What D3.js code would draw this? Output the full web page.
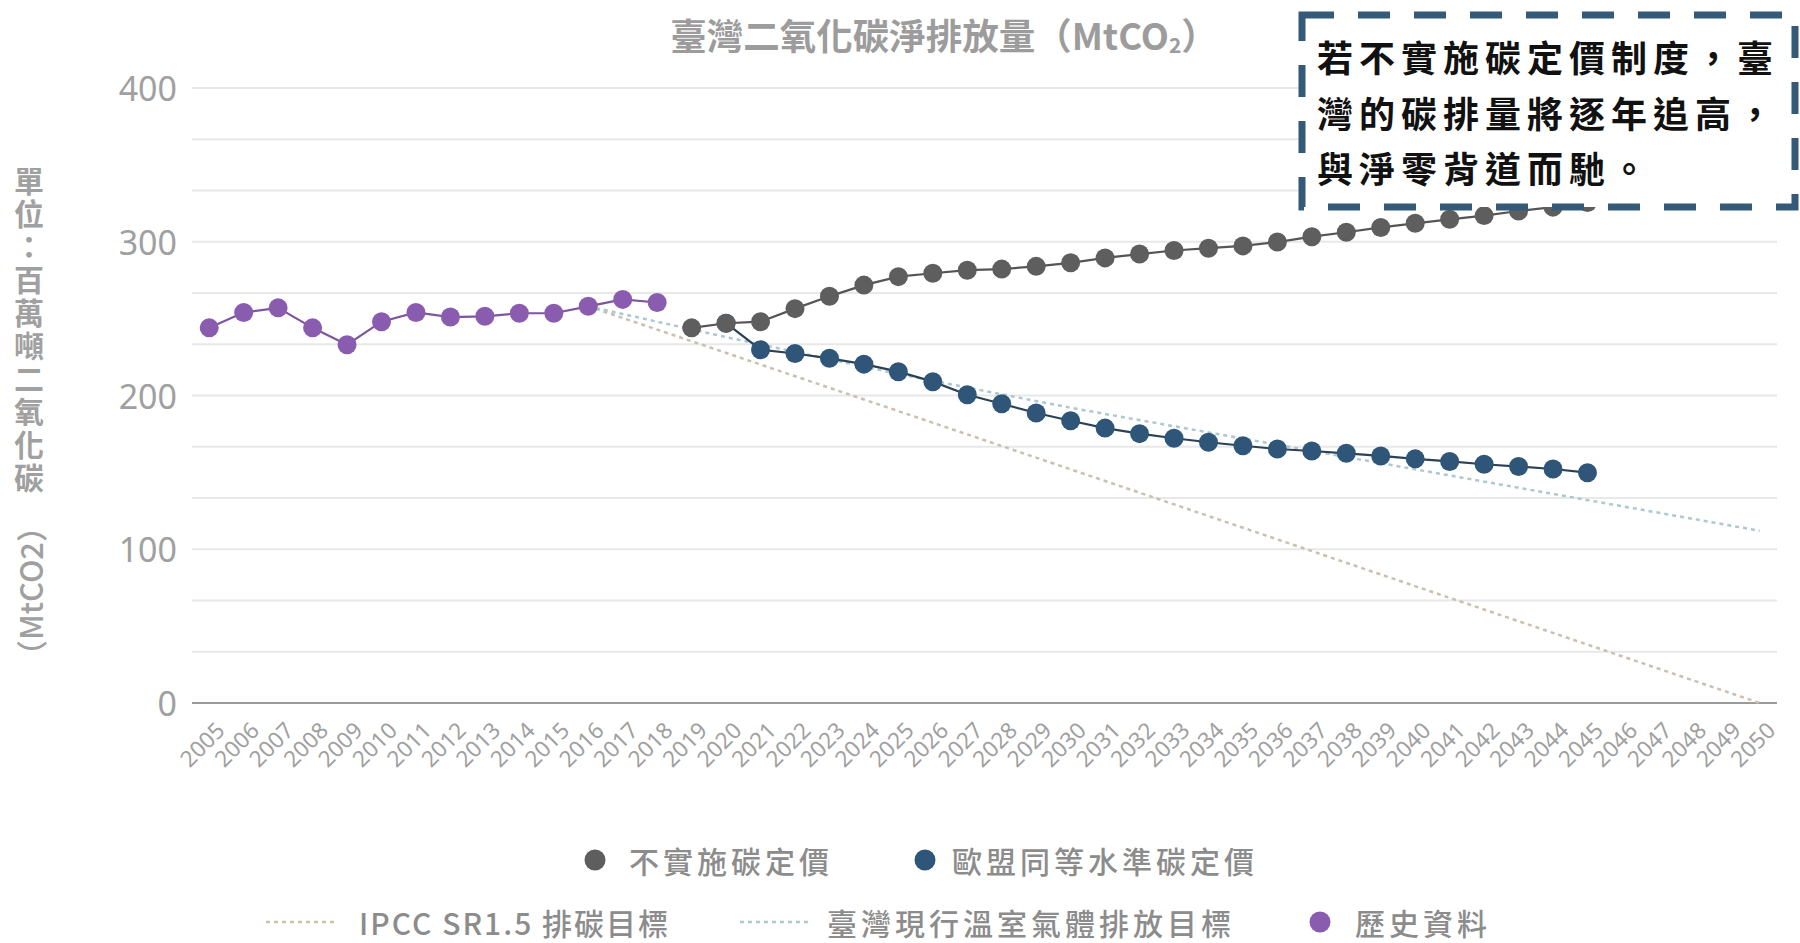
<!DOCTYPE html>
<head>
  <meta charset="utf-8">
  <script src="https://cdn.jsdelivr.net/npm/d3@7/dist/d3.min.js"></script>
  <style>
    body { margin:0; background:#fff; }
    svg { display:block; }
  </style>
</head>
<body>
  <script>
    // categories / tick labels
    var years = ["2005","2006","2007","2008","2009","2010","2011","2012","2013","2014","2015","2016",
                 "2017","2018","2019","2020","2021","2022","2023","2024","2025","2026","2027","2028",
                 "2029","2030","2031","2032","2033","2034","2035","2036","2037","2038","2039","2040",
                 "2041","2042","2043","2044","2045","2046","2047","2048","2049","2050"];
    var yTicks = [0, 100, 200, 300, 400];

    // 歷史資料 2005-2018
    var historyYears = ["2005","2006","2007","2008","2009","2010","2011","2012","2013","2014","2015","2016","2017","2018"];
    var historyValues = [244, 254, 257, 244, 233, 248, 254, 251, 251.5, 253.5, 253.5, 258, 262.5, 260.5];

    // 不實施碳定價 2019-2045
    var noPriceYears = ["2019","2020","2021","2022","2023","2024","2025","2026","2027","2028","2029","2030","2031",
                        "2032","2033","2034","2035","2036","2037","2038","2039","2040","2041","2042","2043","2044","2045"];
    var noPriceValues = [244, 247, 248, 256.5, 264.5, 271.8, 277.3, 279.5, 281.5, 282.2, 284, 286.3, 289.5,
                         292, 294.3, 295.8, 297.3, 299.8, 303.3, 306.2, 309.3, 312, 314.6, 317, 320, 322.5, 325.5];

    // 歐盟同等水準碳定價 2020-2045
    var euYears = ["2020","2021","2022","2023","2024","2025","2026","2027","2028","2029","2030","2031","2032",
                   "2033","2034","2035","2036","2037","2038","2039","2040","2041","2042","2043","2044","2045"];
    var euValues = [247, 229.8, 227.3, 224.2, 220.4, 215.5, 209, 200.5, 194.6, 188.6, 183.6, 178.8, 175.2,
                    172.2, 169.6, 167.3, 165.2, 163.9, 162.4, 160.7, 158.8, 157.1, 155.3, 153.8, 152.2, 149.8];

    // IPCC SR1.5 排碳目標
    var ipccYears = ["2016", "2030", "2050"];
    var ipccValues = [258, 152, 0];

    // 臺灣現行溫室氣體排放目標
    var twYears = ["2016", "2020", "2025", "2030", "2050"];
    var twValues = [258, 238, 214, 192, 112];

    var width = 1800, height = 943;
    var cjk = "'Noto Sans CJK TC', 'Noto Sans', sans-serif";
    var latin = "'Noto Sans', 'Open Sans', sans-serif";

    var svg = d3.select("body").append("svg")
      .attr("width", width)
      .attr("height", height);

    svg.append("rect").attr("width", width).attr("height", height).attr("fill", "#fff");

    var x = d3.scalePoint().domain(years).range([192, 1777]).padding(0.5);
    var y = d3.scaleLinear().domain([0, 400]).range([703, 88]);

    // grid lines every 1/3 of 100
    var grid = d3.range(13).map(function(i) { return i * 100 / 3; });
    svg.append("g").selectAll("line")
      .data(grid)
      .enter().append("line")
      .attr("x1", 192).attr("x2", 1777)
      .attr("y1", function(d) { return y(d); })
      .attr("y2", function(d) { return y(d); })
      .attr("stroke", function(d) { return d === 0 ? "#9a9a9a" : "#e8e8e8"; })
      .attr("stroke-width", 2);

    // y tick labels
    svg.append("g").selectAll("text")
      .data(yTicks)
      .enter().append("text")
      .attr("x", 177)
      .attr("y", function(d) { return y(d); })
      .attr("text-anchor", "end")
      .attr("dominant-baseline", "central")
      .style("font-family", latin)
      .style("font-size", "34px")
      .attr("fill", "#a0a0a0")
      .text(function(d) { return d; });

    // x tick labels
    svg.append("g").selectAll("text")
      .data(years)
      .enter().append("text")
      .attr("transform", function(d) { return "translate(" + (x(d) + 17) + ",732) rotate(-45)"; })
      .attr("text-anchor", "end")
      .style("font-family", latin)
      .style("font-size", "22.5px")
      .attr("fill", "#a0a0a0")
      .text(function(d) { return d; });

    // y axis title
    svg.append("text")
      .attr("x", 29).attr("y", 166)
      .style("writing-mode", "vertical-rl")
      .style("font-family", cjk)
      .style("font-size", "30px")
      .style("font-weight", "700")
      .style("letter-spacing", "3px")
      .attr("fill", "#a0a0a0")
      .text("單位：百萬噸二氧化碳");
    svg.append("text")
      .attr("transform", "translate(29,591) rotate(-90)")
      .attr("text-anchor", "middle")
      .attr("dominant-baseline", "central")
      .style("font-family", cjk)
      .style("font-size", "31px")
      .style("font-weight", "500")
      .attr("fill", "#a0a0a0")
      .text("（MtCO2）");

    // title
    var title = svg.append("text")
      .attr("x", 944).attr("y", 34)
      .attr("text-anchor", "middle")
      .attr("dominant-baseline", "central")
      .style("font-family", cjk)
      .style("font-size", "36.5px")
      .style("font-weight", "700")
      .attr("fill", "#9c9c9c");
    title.append("tspan").text("臺灣二氧化碳淨排放量（MtCO");
    title.append("tspan").attr("dy", 10).style("font-size", "21px").text("2");
    title.append("tspan").attr("dy", -10).text("）");

    function pairs(ys, vs) {
      return ys.map(function(d, i) { return { year: d, value: vs[i] }; });
    }

    var line = d3.line()
      .x(function(d) { return x(d.year); })
      .y(function(d) { return y(d.value); });

    // target lines (dotted)
    svg.append("path")
      .datum(pairs(ipccYears, ipccValues))
      .attr("d", line)
      .attr("fill", "none")
      .attr("stroke", "#c9c0af")
      .attr("stroke-width", 2.5)
      .attr("stroke-dasharray", "4,4");

    svg.append("path")
      .datum(pairs(twYears, twValues))
      .attr("d", line)
      .attr("fill", "none")
      .attr("stroke", "#acc8d1")
      .attr("stroke-width", 2.5)
      .attr("stroke-dasharray", "4,4");

    function drawSeries(ys, vs, lineColor, dotColor) {
      var data = pairs(ys, vs);
      var g = svg.append("g");
      g.append("path")
        .datum(data)
        .attr("d", line)
        .attr("fill", "none")
        .attr("stroke", lineColor)
        .attr("stroke-width", 2.2);
      g.selectAll("circle")
        .data(data)
        .enter().append("circle")
        .attr("cx", function(d) { return x(d.year); })
        .attr("cy", function(d) { return y(d.value); })
        .attr("r", 9.5)
        .attr("fill", dotColor);
    }

    drawSeries(historyYears, historyValues, "#7d55a0", "#8a5cb0");
    drawSeries(euYears, euValues, "#2b4256", "#2f5678");
    drawSeries(noPriceYears, noPriceValues, "#555", "#5e5e5e");

    // legend
    function legendText(tx, ty, label, spacing) {
      svg.append("text")
        .attr("x", tx).attr("y", ty)
        .attr("dominant-baseline", "central")
        .style("font-family", cjk)
        .style("font-size", "30px")
        .style("font-weight", "500")
        .style("letter-spacing", (spacing == null ? 4 : spacing) + "px")
        .attr("fill", "#8c8c8c")
        .text(label);
    }
    function legendDot(cx, cy, color) {
      svg.append("circle").attr("cx", cx).attr("cy", cy).attr("r", 10.5).attr("fill", color);
    }
    function legendDash(x1, x2, cy, color) {
      svg.append("line")
        .attr("x1", x1).attr("x2", x2).attr("y1", cy).attr("y2", cy)
        .attr("stroke", color).attr("stroke-width", 2.5)
        .attr("stroke-dasharray", "4,4");
    }

    legendDot(595, 860, "#5e5e5e");
    legendText(629, 860, "不實施碳定價");
    legendDot(925, 860, "#2f5678");
    legendText(952, 860, "歐盟同等水準碳定價");

    legendDash(266, 338, 922, "#c9c0af");
    legendText(359, 922, "IPCC SR1.5 排碳目標", 2);
    legendDash(740, 810, 922, "#acc8d1");
    legendText(827, 922, "臺灣現行溫室氣體排放目標");
    legendDot(1320, 922, "#8a5cb0");
    legendText(1355, 922, "歷史資料");

    // annotation box
    svg.append("rect")
      .attr("x", 1302).attr("y", 15)
      .attr("width", 493).attr("height", 192)
      .attr("fill", "#fff")
      .attr("stroke", "#345a78")
      .attr("stroke-width", 7)
      .attr("stroke-dasharray", "32,24");

    var note = ["若不實施碳定價制度，臺", "灣的碳排量將逐年追高，", "與淨零背道而馳。"];
    svg.append("g").selectAll("text")
      .data(note)
      .enter().append("text")
      .attr("x", 1317)
      .attr("y", function(d, i) { return 56 + i * 55.5; })
      .attr("dominant-baseline", "central")
      .style("font-family", cjk)
      .style("font-size", "36px")
      .style("font-weight", "700")
      .style("letter-spacing", "6px")
      .attr("fill", "#111")
      .text(function(d) { return d; });
  </script>
</body>
